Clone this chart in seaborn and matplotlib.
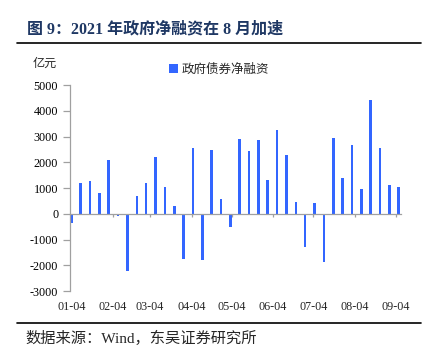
import numpy as np
import pandas as pd
import matplotlib
matplotlib.use('Agg')
import matplotlib.pyplot as plt
from matplotlib.lines import Line2D
import seaborn as sns

# weekly government bond net financing, 100m yuan
start = '2021-01-04'
n_weeks = 36
net_financing = [-350, 1200, 1270, 820, 2070, -90, -2240, 690, 1190, 2190,
                 1020, 320, -1770, 2570, -1780, 2490, 580, -520, 2890, 2420,
                 2850, 1310, 3240, 2270, 440, -1280, 410, -1880, 2940, 1370,
                 2660, 960, 4400, 2550, 1130, 1020]
month_ticks = ['2021-01-04', '2021-02-04', '2021-03-04', '2021-04-04', '2021-05-04',
               '2021-06-04', '2021-07-04', '2021-08-04', '2021-09-04']
month_labels = ['01-04', '02-04', '03-04', '04-04', '05-04',
                '06-04', '07-04', '08-04', '09-04']
y_ticks = [-3000, -2000, -1000, 0, 1000, 2000, 3000, 4000, 5000]

title = '图 9：2021 年政府净融资在 8 月加速'
source = '数据来源：Wind，东吴证券研究所'
series_name = '政府债券净融资'
unit = '亿元'

sns.set_theme(style='white')
plt.rcParams['font.family'] = ['Liberation Serif', 'Noto Sans CJK SC']
plt.rcParams['axes.unicode_minus'] = False

t0 = pd.Timestamp(start)
dates = pd.date_range(start, periods=n_weeks, freq='7D')
df = pd.DataFrame({'day': (dates - t0).days.astype(float), 'value': net_financing})
tick_days = [(pd.Timestamp(d) - t0).days for d in month_ticks]

W, H = 437, 351
fig = plt.figure(figsize=(W / 100, H / 100), dpi=100)
ax = fig.add_axes([70 / W, 1 - 291 / H, (401 - 70) / W, (291 - 85) / H])

bar_color = '#3366FF'
sns.barplot(data=df, x='day', y='value', native_scale=True, width=0.28,
            color=bar_color, saturation=1, linewidth=0, label=series_name, ax=ax)

axis_gray = '#A0A0A0'
ax.set_xlim(-1, 246.7)
ax.set_ylim(-3000, 5000)
ax.set_yticks(y_ticks)
ax.set_yticklabels([str(v) for v in y_ticks], fontsize=8.7)
ax.set_xticks(tick_days)
ax.set_xticklabels([])
ax.set_xlabel('')
ax.set_ylabel('')

for s in ['top', 'right']:
    ax.spines[s].set_visible(False)
ax.spines['bottom'].set_position(('data', 0))
ax.spines['bottom'].set_color(axis_gray)
ax.spines['left'].set_color(axis_gray)
ax.spines['bottom'].set_linewidth(0.9)
ax.spines['left'].set_linewidth(0.9)
ax.tick_params(axis='y', direction='out', length=5, width=0.9, color=axis_gray,
               pad=3.5, left=True, labelcolor='black')
ax.tick_params(axis='x', direction='out', length=2.5, width=0.9, color=axis_gray,
               bottom=True)

# month labels at the bottom of the plot area
sec = ax.secondary_xaxis('bottom')
sec.set_xticks(tick_days)
sec.set_xticklabels(month_labels, fontsize=8.7)
sec.spines['bottom'].set_visible(False)
sec.tick_params(length=0, pad=7)

ax.legend(loc='center left', bbox_to_anchor=(169 / W, 1 - 70 / H),
          bbox_transform=fig.transFigure, frameon=False, fontsize=9,
          handlelength=0.75, handleheight=0.75, handletextpad=0.25,
          borderpad=0, borderaxespad=0)

fig.text(33 / W, 1 - 64 / H, unit, fontsize=8.7, va='center', ha='left')

fig.text(27 / W, 1 - 29 / H, title, fontsize=11.5, fontweight='bold',
         color='#1F3864', va='center', ha='left')
fig.add_artist(Line2D([17 / W, 421 / W], [1 - 42.7 / H, 1 - 42.7 / H],
                      color='black', linewidth=1.2, transform=fig.transFigure))
fig.add_artist(Line2D([17 / W, 421 / W], [1 - 322.7 / H, 1 - 322.7 / H],
                      color='black', linewidth=1.2, transform=fig.transFigure))
fig.text(25 / W, 1 - 338 / H, source, fontsize=11, va='center', ha='left')

fig.savefig('out.png', dpi=100)
